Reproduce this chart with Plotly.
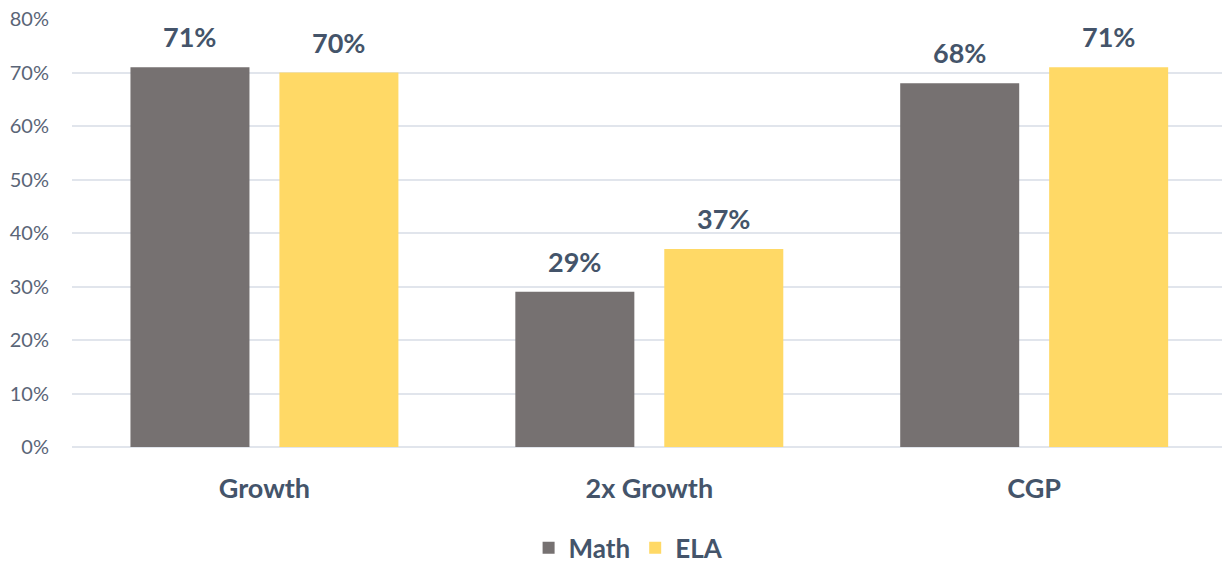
import plotly.graph_objects as go

categories = ["Growth", "2x Growth", "CGP"]
math_vals = [0.71, 0.29, 0.68]
ela_vals = [0.70, 0.37, 0.71]
y_ticks = [0, 0.1, 0.2, 0.3, 0.4, 0.5, 0.6, 0.7, 0.8]

FONT = "Lato"
TEXT = "#44546A"
MATH_COLOR = "#767171"
ELA_COLOR = "#FFD966"

fig = go.Figure()
fig.add_trace(go.Bar(name="<b>Math</b>", x=categories, y=math_vals,
                     marker=dict(color=MATH_COLOR, line=dict(width=0))))
fig.add_trace(go.Bar(name="<b>ELA</b>", x=categories, y=ela_vals,
                     marker=dict(color=ELA_COLOR, line=dict(width=0))))

# value labels above each bar
for vals, shift in ((math_vals, -74.5), (ela_vals, 74.5)):
    for cat, v in zip(categories, vals):
        fig.add_annotation(x=cat, y=v, text=f"<b>{round(v*100)}%</b>",
                           showarrow=False, xref="x", yref="y",
                           xshift=shift, yshift=12, yanchor="bottom",
                           font=dict(family=FONT, size=27, color=TEXT))

fig.update_layout(
    width=1222, height=563,
    margin=dict(l=72, r=0, t=19, b=116, autoexpand=False),
    paper_bgcolor="white", plot_bgcolor="white",
    barmode="group", bargap=0.226, bargroupgap=0.201,
    font=dict(family=FONT, color=TEXT),
    showlegend=True,
    legend=dict(orientation="h", x=0.484, xanchor="center",
                yref="container", y=0.027, yanchor="middle",
                font=dict(family=FONT, size=26, color=TEXT),
                itemwidth=30, traceorder="normal"),
    xaxis=dict(range=[-0.5, 2.488], showgrid=False, showline=False,
               ticks="", tickfont=dict(family=FONT, size=27, color=TEXT),
               ticklabelstandoff=23, automargin=False,
               tickvals=categories,
               ticktext=[f"<b>{c}</b>" for c in categories]),
    yaxis=dict(range=[0, 0.8], tickvals=y_ticks, tickformat=".0%",
               showgrid=True, gridcolor="#E1E5EC", gridwidth=1.5,
               zeroline=True, zerolinecolor="#E1E5EC", zerolinewidth=1.5,
               showline=False, ticks="", ticklabelstandoff=22,
               automargin=False,
               tickfont=dict(family=FONT, size=20, color="#5A6577")),
)

fig.write_html("out.html")
